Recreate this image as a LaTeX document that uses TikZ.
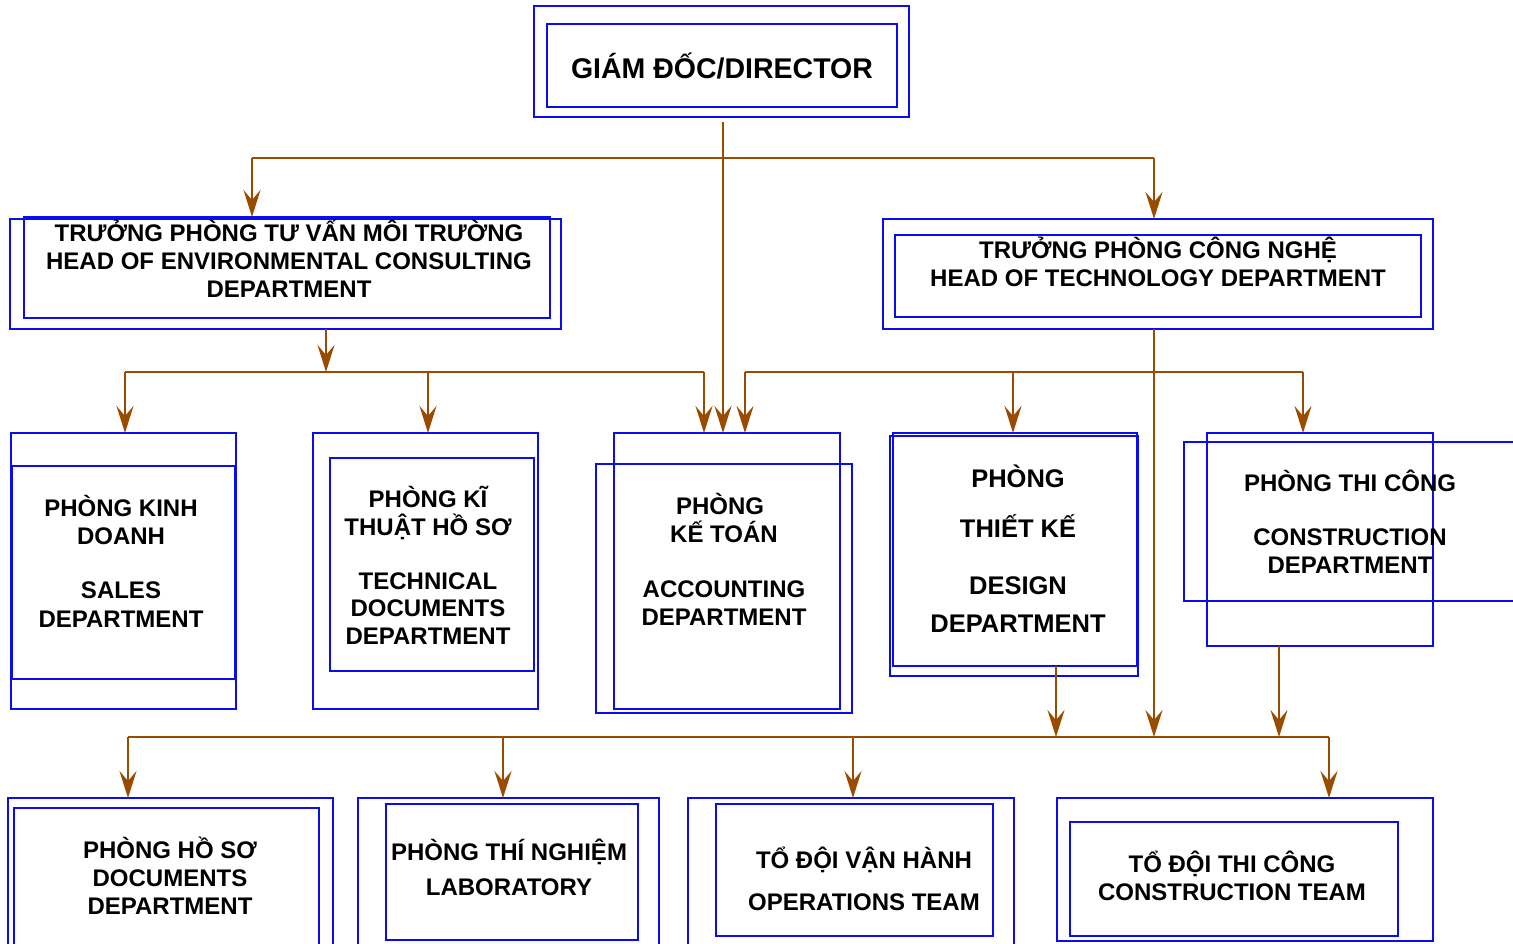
\documentclass[tikz,border=0pt]{standalone}
\usepackage{fontspec}
\setmainfont{Liberation Sans}
\usetikzlibrary{arrows.meta}
\definecolor{bl}{RGB}{12,12,240}
\definecolor{br}{RGB}{153,76,0}
\newcommand\mybox[5]{\node[bx,minimum width={(#4-#2)*1pt},minimum height={(#5-#3)*1pt}] (#1) at (#2,#3) {};}
\newcommand\txtline[5]{\node[txt,font=\bfseries\fontsize{#4}{#4}\selectfont] (#1) at (#2,{#3+0.358*#4}) {#5};}
\begin{document}
\begin{tikzpicture}[x=1pt,y=-1pt,
  bx/.style={draw=bl,line width=2pt,inner sep=0pt,outer sep=0pt,anchor=north west},
  txt/.style={inner sep=0pt,anchor=base,text=black},
  ln/.style={draw=br,line width=2.4pt},
  arr/.style={ln,-{Stealth[length=27pt,width=17pt,inset=10pt]}}]
\useasboundingbox (0,0) rectangle (1513,944);
% ---------- boxes ----------
\mybox{dirO}{534}{6}{909}{117}
\mybox{dirI}{547}{24}{897}{107}
\mybox{envO}{10}{219}{561}{329}
\mybox{envI}{24}{217}{550}{318}
\mybox{tecO}{883}{219}{1433}{329}
\mybox{tecI}{895}{235}{1421}{317}
\mybox{salO}{11}{433}{236}{709}
\mybox{salI}{12}{466}{235}{679}
\mybox{tdO}{313}{433}{538}{709}
\mybox{tdI}{330}{458}{534}{671}
\mybox{accA}{614}{433}{840}{709}
\mybox{accB}{596}{464}{852}{713}
\mybox{desO}{890}{436}{1138}{676}
\mybox{desI}{893}{433}{1137}{666}
\mybox{conA}{1207}{433}{1433}{646}
\mybox{conB}{1184}{442}{1518}{601}
\mybox{docO}{8}{798}{333}{952}
\mybox{docI}{14}{808}{319}{952}
\mybox{labO}{358}{798}{659}{952}
\mybox{labI}{386}{804}{638}{940}
\mybox{opsO}{688}{798}{1014}{952}
\mybox{opsI}{716}{804}{993}{936}
\mybox{ctO}{1057}{798}{1433}{941}
\mybox{ctI}{1070}{822}{1398}{936}
% ---------- texts ----------
\txtline{tD}{722}{68}{28.5}{GIÁM ĐỐC/DIRECTOR}
\txtline{tE1}{289}{233}{24}{TRƯỞNG PHÒNG TƯ VẤN MÔI TRƯỜNG}
\txtline{tE2}{289}{261}{24}{HEAD OF ENVIRONMENTAL CONSULTING}
\txtline{tE3}{289}{289}{24}{DEPARTMENT}
\txtline{tT1}{1158}{250}{24}{TRƯỞNG PHÒNG CÔNG NGHỆ}
\txtline{tT2}{1158}{278}{24}{HEAD OF TECHNOLOGY DEPARTMENT}
\txtline{tS1}{121}{508}{24}{PHÒNG KINH}
\txtline{tS2}{121}{536}{24}{DOANH}
\txtline{tS3}{121}{590}{24}{SALES}
\txtline{tS4}{121}{619}{24}{DEPARTMENT}
\txtline{tK1}{428}{499}{24}{PHÒNG KĨ}
\txtline{tK2}{428}{527}{24}{THUẬT HỒ SƠ}
\txtline{tK3}{428}{581}{24}{TECHNICAL}
\txtline{tK4}{428}{608}{24}{DOCUMENTS}
\txtline{tK5}{428}{636}{24}{DEPARTMENT}
\txtline{tA1}{720}{506}{24}{PHÒNG}
\txtline{tA2}{724}{534}{24}{KẾ TOÁN}
\txtline{tA3}{724}{589}{24}{ACCOUNTING}
\txtline{tA4}{724}{617}{24}{DEPARTMENT}
\txtline{tG1}{1018}{478}{25.5}{PHÒNG}
\txtline{tG2}{1018}{528}{25.5}{THIẾT KẾ}
\txtline{tG3}{1018}{585}{25.5}{DESIGN}
\txtline{tG4}{1018}{623}{25.5}{DEPARTMENT}
\txtline{tC1}{1350}{483}{24}{PHÒNG THI CÔNG}
\txtline{tC2}{1350}{537}{24}{CONSTRUCTION}
\txtline{tC3}{1350}{565}{24}{DEPARTMENT}
\txtline{tH1}{170}{850}{24}{PHÒNG HỒ SƠ}
\txtline{tH2}{170}{878}{24}{DOCUMENTS}
\txtline{tH3}{170}{906}{24}{DEPARTMENT}
\txtline{tL1}{509}{852}{24}{PHÒNG THÍ NGHIỆM}
\txtline{tL2}{509}{887}{24}{LABORATORY}
\txtline{tO1}{864}{860}{24}{TỔ ĐỘI VẬN HÀNH}
\txtline{tO2}{864}{902}{24}{OPERATIONS TEAM}
\txtline{tN1}{1232}{864}{24}{TỔ ĐỘI THI CÔNG}
\txtline{tN2}{1232}{892}{24}{CONSTRUCTION TEAM}
% ---------- connectors ----------
\coordinate (d0) at (723,122);
\coordinate (b1) at (252,158);
\coordinate (b2) at (1154,158);
\coordinate (e0) at (326,329);
\coordinate (e1) at (326,372);
\coordinate (c1) at (125,372);
\coordinate (c2) at (428,372);
\coordinate (c3) at (704,372);
\coordinate (t1) at (745,372);
\coordinate (t2) at (1013,372);
\coordinate (t3) at (1303,372);
\coordinate (tv) at (1154,329);
\coordinate (ds) at (1056,666);
\coordinate (cs) at (1279,646);
\coordinate (L1) at (128,737);
\coordinate (L2) at (503,737);
\coordinate (L3) at (853,737);
\coordinate (L4) at (1329,737);
% director
\draw[ln] (b1) -- (b2);
\draw[arr] (d0) -- (d0 |- accA.north);
\draw[arr] (b1) -- (b1 |- envI.north);
\draw[arr] (b2) -- (b2 |- tecO.north);
% environmental head
\draw[arr] (e0) -- (e1);
\draw[ln] (c1) -- (c3);
\draw[arr] (c1) -- (c1 |- salO.north);
\draw[arr] (c2) -- (c2 |- tdO.north);
\draw[arr] (c3) -- (c3 |- accA.north);
% technology head
\draw[ln] (t1) -- (t3);
\draw[arr] (t1) -- (t1 |- accA.north);
\draw[arr] (t2) -- (t2 |- desI.north);
\draw[arr] (t3) -- (t3 |- conA.north);
\draw[arr] (tv) -- (tv |- L1);
% into lower bus
\draw[arr] (ds) -- (ds |- L1);
\draw[arr] (cs) -- (cs |- L1);
\draw[ln] (L1) -- (L4);
\draw[arr] (L1) -- (L1 |- docO.north);
\draw[arr] (L2) -- (L2 |- labO.north);
\draw[arr] (L3) -- (L3 |- opsO.north);
\draw[arr] (L4) -- (L4 |- ctO.north);
\end{tikzpicture}
\end{document}
